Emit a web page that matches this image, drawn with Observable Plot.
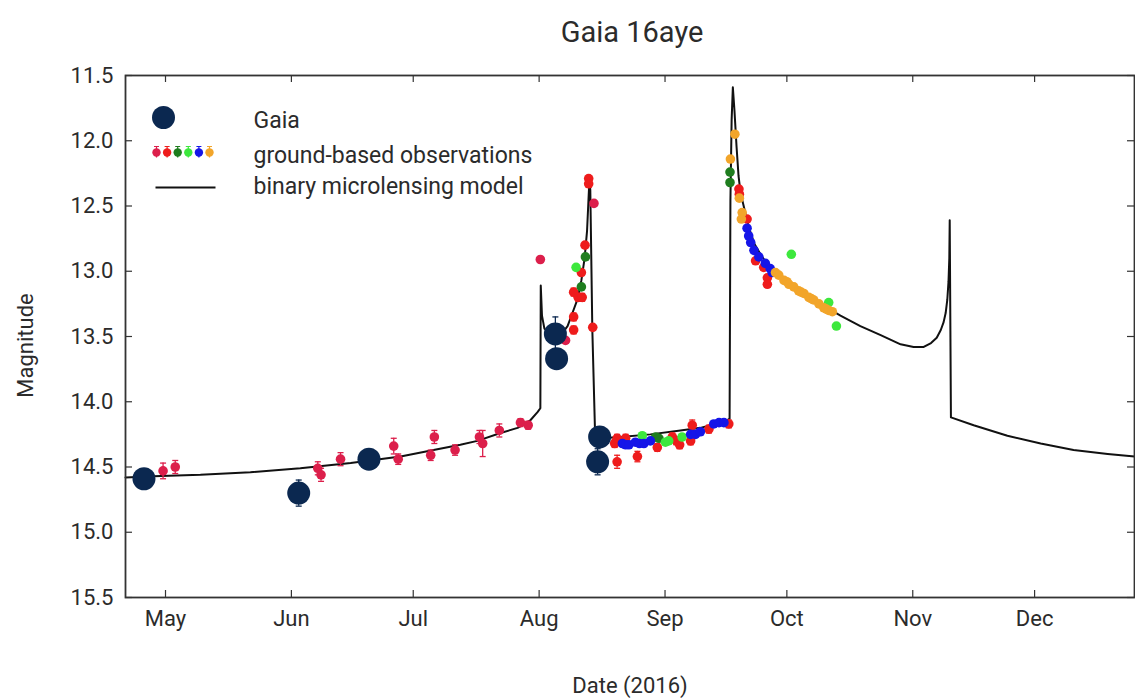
<!DOCTYPE html>
<html><head><meta charset="utf-8">
<script src="https://cdn.jsdelivr.net/npm/d3@7"></script>
<script src="https://cdn.jsdelivr.net/npm/@observablehq/plot@0.6"></script>
<style>
html,body{margin:0;padding:0;background:#fff}
#chart svg{display:block}
</style>
</head><body><div id="chart"></div>
<script>
// Dates are stored as days since 2016-01-01 (fractional)
const monthTicks = ["2016-05-01","2016-06-01","2016-07-01","2016-08-01","2016-09-01","2016-10-01","2016-11-01","2016-12-01"];
const monthLabels = ["May","Jun","Jul","Aug","Sep","Oct","Nov","Dec"];
const yTicks = [11.5, 12.0, 12.5, 13.0, 13.5, 14.0, 14.5, 15.0, 15.5];
const yTickLabels = ["11.5","12.0","12.5","13.0","13.5","14.0","14.5","15.0","15.5"];
const xDomainDays = [111.15, 359.6];

const gaiaDay = [115.7, 153.8, 171.1, 217.0, 217.3, 227.4, 227.9];
const gaiaMag = [14.59, 14.70, 14.44, 13.48, 13.67, 14.46, 14.27];
const gaiaErr = [0.05, 0.10, 0.07, 0.13, 0.06, 0.10, 0.06];

const crimsonDay = [120.4, 123.4, 158.5, 159.3, 164.1, 177.2, 178.3, 186.3, 187.2, 192.3, 198.3, 199.1, 203.2, 208.4, 210.3, 213.3, 219.5, 226.5];
const crimsonMag = [14.53, 14.50, 14.51, 14.56, 14.44, 14.34, 14.44, 14.41, 14.27, 14.37, 14.27, 14.32, 14.22, 14.16, 14.18, 12.91, 13.53, 12.48];
const crimsonErr = [0.06, 0.05, 0.05, 0.05, 0.05, 0.06, 0.04, 0.04, 0.05, 0.04, 0.05, 0.10, 0.05, 0.03, 0.03, 0.02, 0.02, 0.02];

const redDay = [225.2, 225.2, 224.3, 223.4, 221.5, 222.6, 223.6, 221.5, 221.5, 226.2, 232.2, 232.2, 231.6, 237.2, 234.3, 242.1, 245.8, 246.8, 247.6, 250.3, 250.7, 254.8, 259.7, 262.2, 262.3, 264.2, 266.3, 268.3, 269.2, 269.2];
const redMag = [12.29, 12.33, 12.80, 13.01, 13.16, 13.20, 13.20, 13.35, 13.45, 13.43, 14.28, 14.46, 14.32, 14.42, 14.28, 14.35, 14.27, 14.30, 14.33, 14.30, 14.18, 14.21, 14.17, 12.37, 12.41, 12.60, 12.92, 12.97, 13.05, 13.10];
const redErr = [0.02, 0.02, 0.02, 0.02, 0.03, 0.03, 0.03, 0.03, 0.03, 0.02, 0.03, 0.05, 0.03, 0.04, 0.03, 0.03, 0.03, 0.03, 0.03, 0.03, 0.04, 0.03, 0.03, 0.02, 0.02, 0.02, 0.02, 0.02, 0.02, 0.02];

const darkGreenDay = [224.4, 223.4, 241.7, 242.5, 260.0, 260.0];
const darkGreenMag = [12.89, 13.12, 14.27, 14.28, 12.24, 12.32];

const limeDay = [222.1, 238.4, 244.1, 244.9, 248.2, 275.1, 284.3, 286.2];
const limeMag = [12.97, 14.26, 14.31, 14.30, 14.27, 12.87, 13.24, 13.42];

const blueDay = [233.5, 234.3, 235.1, 236.7, 237.7, 238.8, 240.4, 250.3, 251.5, 252.7, 256.0, 257.3, 258.5, 264.2, 264.6, 265.1, 265.9, 267.1, 268.7, 269.9, 270.4];
const blueMag = [14.32, 14.33, 14.33, 14.31, 14.32, 14.32, 14.30, 14.25, 14.25, 14.23, 14.17, 14.16, 14.16, 12.67, 12.73, 12.78, 12.84, 12.89, 12.94, 12.98, 13.01];

const orangeDay = [261.2, 260.1, 262.3, 263.0, 262.8, 271.2, 272.0, 273.3, 274.0, 274.5, 275.7, 276.9, 277.5, 278.2, 279.4, 280.0, 280.6, 281.9, 283.1, 283.7, 284.3, 285.2];
const orangeMag = [11.95, 12.14, 12.44, 12.55, 12.60, 13.01, 13.03, 13.07, 13.08, 13.10, 13.12, 13.15, 13.16, 13.17, 13.20, 13.21, 13.22, 13.25, 13.28, 13.29, 13.30, 13.31];

const modelDay = [111.15, 118.0, 129.6, 141.9, 154.2, 166.6, 178.9, 187.0, 193.6, 197.8, 203.5, 207.7, 210.9, 212.6, 213.3, 213.4, 213.7, 214.3, 215.8, 217.3, 218.8, 220.0, 221.2, 222.5, 223.4, 224.2, 224.8, 225.2, 225.4, 225.6, 226.1, 226.8, 228.1, 233.0, 240.4, 247.8, 252.7, 256.4, 258.9, 259.9, 260.1, 260.4, 260.7, 261.1, 261.6, 262.1, 262.6, 263.6, 264.6, 266.0, 267.5, 269.5, 272.0, 274.9, 278.6, 282.3, 287.2, 292.1, 297.1, 302.0, 305.2, 307.7, 309.5, 310.9, 311.9, 312.6, 313.1, 313.5, 313.8, 314.0, 314.1, 314.4, 320.0, 328.3, 336.5, 344.6, 353.0, 359.6];
const modelMag = [14.58, 14.57, 14.56, 14.54, 14.51, 14.47, 14.42, 14.37, 14.33, 14.30, 14.24, 14.20, 14.14, 14.08, 14.05, 13.11, 13.34, 13.44, 13.49, 13.50, 13.47, 13.42, 13.32, 13.21, 13.07, 12.90, 12.69, 12.42, 12.29, 12.38, 13.45, 14.27, 14.28, 14.27, 14.25, 14.22, 14.20, 14.17, 14.15, 14.13, 12.46, 11.84, 11.59, 11.77, 12.04, 12.27, 12.40, 12.53, 12.66, 12.79, 12.87, 12.96, 13.03, 13.09, 13.17, 13.25, 13.34, 13.42, 13.49, 13.56, 13.58, 13.58, 13.55, 13.51, 13.45, 13.39, 13.32, 13.22, 13.08, 12.90, 12.61, 14.12, 14.18, 14.26, 14.32, 14.37, 14.40, 14.42];

const legendLabels = ["Gaia", "ground-based observations", "binary microlensing model"];
const groundColors = ["#dc1f4b", "#ee1c1c", "#1e7d1e", "#3de83d", "#1515e8", "#f2a52a"];
const gaiaColor = "#0b2850";

// ---- build tables ----
const toDate = t => new Date(Date.UTC(2016, 0, 1) + t * 864e5);
const mk = (days, mags, errs) => days.map((d, i) => ({date: toDate(d), mag: mags[i], err: errs ? errs[i] : 0}));
const gaia = mk(gaiaDay, gaiaMag, gaiaErr);
const series = [
  {data: mk(crimsonDay, crimsonMag, crimsonErr), color: groundColors[0]},
  {data: mk(redDay, redMag, redErr), color: groundColors[1]},
  {data: mk(darkGreenDay, darkGreenMag), color: groundColors[2]},
  {data: mk(limeDay, limeMag), color: groundColors[3]},
  {data: mk(blueDay, blueMag), color: groundColors[4]},
  {data: mk(orangeDay, orangeMag), color: groundColors[5]}
];
const model = mk(modelDay, modelMag);
const ticksX = monthTicks.map(s => new Date(s + "T00:00Z"));

const capSym = {draw(ctx) { ctx.moveTo(-3, 0); ctx.lineTo(3, 0); }};
const lineSym = {draw(ctx) { ctx.moveTo(-30, 0); ctx.lineTo(30, 0); }};
const errSym = {draw(ctx) { ctx.moveTo(0, -6); ctx.lineTo(0, 5); ctx.moveTo(-2.5, -6); ctx.lineTo(2.5, -6); }};

const W = 1135, H = 698, mT = 75, mB = 101, mL = 125, mR = 1;
const fw = W - mL - mR, fh = H - mT - mB, tl = 7;
const txt = "#2b2b2b";
const FONT = "Roboto, 'DejaVu Sans', sans-serif";

const marks = [];
// model line
marks.push(Plot.line(model, {x: "date", y: "mag", stroke: "#111", strokeWidth: 2}));
// ground-based points
for (const s of series) {
  const withErr = s.data.filter(d => d.err > 0);
  if (withErr.length) {
    marks.push(Plot.ruleX(withErr, {x: "date", y1: d => d.mag - d.err, y2: d => d.mag + d.err, stroke: s.color, strokeWidth: 1.3}));
    marks.push(Plot.dot(withErr, {x: "date", y: d => d.mag - d.err, symbol: capSym, stroke: s.color, fill: "none", strokeWidth: 1.3}));
    marks.push(Plot.dot(withErr, {x: "date", y: d => d.mag + d.err, symbol: capSym, stroke: s.color, fill: "none", strokeWidth: 1.3}));
  }
  marks.push(Plot.dot(s.data, {x: "date", y: "mag", r: 4.8, fill: s.color}));
}
// Gaia
marks.push(Plot.ruleX(gaia, {x: "date", y1: d => d.mag - d.err, y2: d => d.mag + d.err, stroke: gaiaColor, strokeWidth: 1.3}));
marks.push(Plot.dot(gaia, {x: "date", y: d => d.mag - d.err, symbol: capSym, stroke: gaiaColor, fill: "none", strokeWidth: 1.3}));
marks.push(Plot.dot(gaia, {x: "date", y: d => d.mag + d.err, symbol: capSym, stroke: gaiaColor, fill: "none", strokeWidth: 1.3}));
marks.push(Plot.dot(gaia, {x: "date", y: "mag", r: 11.5, fill: gaiaColor}));

// frame + inward ticks
marks.push(Plot.frame({stroke: "#333", strokeWidth: 1.8}));
marks.push(Plot.tickX(ticksX, {x: d => d, insetTop: fh - tl, stroke: "#333", strokeWidth: 1.2}));
marks.push(Plot.tickX(ticksX, {x: d => d, insetBottom: fh - tl, stroke: "#333", strokeWidth: 1.2}));
marks.push(Plot.tickY(yTicks, {y: d => d, insetRight: fw - tl, stroke: "#333", strokeWidth: 1.2}));
marks.push(Plot.tickY(yTicks, {y: d => d, insetLeft: fw - tl, stroke: "#333", strokeWidth: 1.2}));

// axes labels
marks.push(Plot.axisX(ticksX, {tickSize: 0, tickPadding: 13, fontSize: 22, fill: txt, tickFormat: (d, i) => monthLabels[i], label: null}));
marks.push(Plot.axisY(yTicks, {tickSize: 0, tickPadding: 12, fontSize: 22, fill: txt, tickFormat: (d, i) => yTickLabels[i], label: null}));

// titles
marks.push(Plot.text(["Gaia 16aye"], {frameAnchor: "top", dy: -43, dx: 2, fontSize: 29, fill: txt, textAnchor: "middle", lineAnchor: "middle"}));
marks.push(Plot.text(["Date (2016)"], {frameAnchor: "bottom", dy: 88, fontSize: 22, fill: txt, textAnchor: "middle", lineAnchor: "middle"}));
marks.push(Plot.text(["Magnitude"], {frameAnchor: "left", dx: -100, dy: 9, rotate: -90, fontSize: 22, fill: txt, textAnchor: "middle", lineAnchor: "middle"}));

// legend
marks.push(Plot.dot([0], {frameAnchor: "top-left", dx: 38, dy: 42, r: 11.5, fill: gaiaColor}));
groundColors.forEach((c, i) => {
  marks.push(Plot.dot([0], {frameAnchor: "top-left", dx: 31 + 10.6 * i, dy: 77, symbol: errSym, stroke: c, fill: "none", strokeWidth: 1.2}));
  marks.push(Plot.dot([0], {frameAnchor: "top-left", dx: 31 + 10.6 * i, dy: 77, r: 4.2, fill: c}));
});
marks.push(Plot.dot([0], {frameAnchor: "top-left", dx: 60, dy: 112, symbol: lineSym, stroke: "#111", fill: "none", strokeWidth: 2}));
legendLabels.forEach((t, i) => {
  marks.push(Plot.text([t], {frameAnchor: "top-left", dx: 128, dy: [45, 80, 111][i], textAnchor: "start", lineAnchor: "middle", fontSize: 23, fill: txt}));
});

const chart = Plot.plot({
  width: W, height: H,
  marginTop: mT, marginBottom: mB, marginLeft: mL, marginRight: mR,
  x: {type: "utc", domain: xDomainDays.map(toDate)},
  y: {domain: [15.5, 11.5]},
  style: {fontFamily: FONT, background: "#fff", color: txt},
  marks
});
document.getElementById("chart").appendChild(chart);
</script>
</body></html>
